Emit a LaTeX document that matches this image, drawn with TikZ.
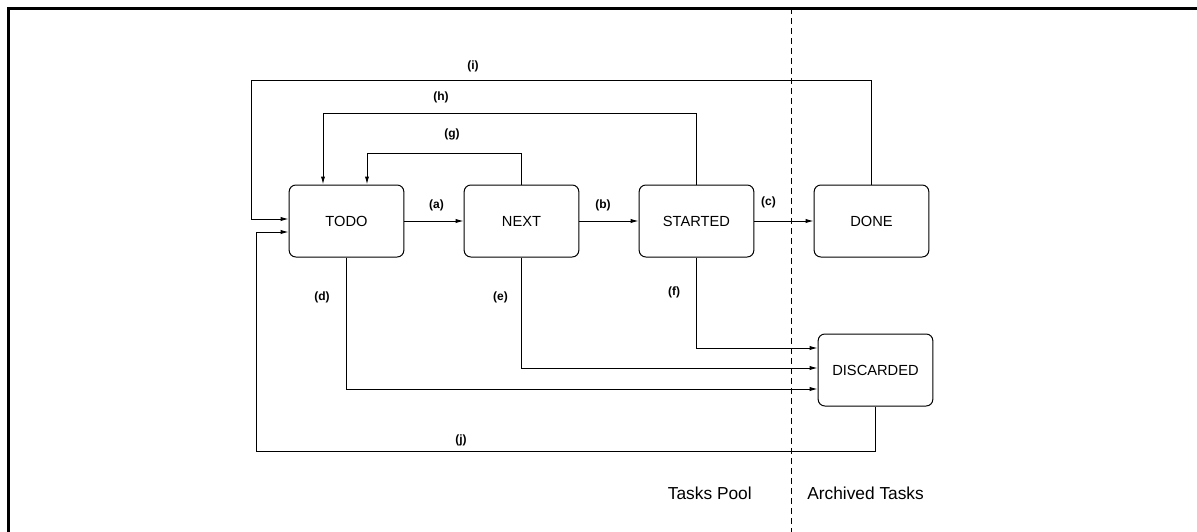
\documentclass[tikz,border=0pt]{standalone}
\usepackage{fontspec}
\setmainfont{Liberation Sans}
\usetikzlibrary{arrows.meta,positioning,calc}

\begin{document}
\begin{tikzpicture}[
    x=0.75pt, y=-0.75pt,
    node distance=44.5pt,
    state/.style={rectangle, rounded corners=5pt, draw, line width=0.75pt, minimum width=86pt, minimum height=54pt, align=center, font=\fontsize{11}{13}\selectfont},
    lbl/.style={inner sep=0pt, font=\bfseries\fontsize{9}{11}\selectfont},
    flow/.style={line width=0.75pt, -{Latex[length=6pt,width=3.2pt]}},
    zone/.style={inner sep=0pt, font=\fontsize{13}{15}\selectfont}
]
    \useasboundingbox (0,0) rectangle (1197,532);
    \draw[line width=2.25pt] (8,532) -- (8,8) -- (1197,8);
    \draw[line width=0.75pt, dash pattern=on 4.5pt off 3pt] (791,8) -- (791,532);

    \node[state] (todo) at (346.5,221) {TODO};
    \node[state, right=of todo] (next) {NEXT};
    \node[state, right=of next] (started) {STARTED};
    \node[state, right=of started] (done) {DONE};
    \node[state] (discarded) at (875.5,370) {DISCARDED};

    \coordinate (ileft) at (251,80);
    \coordinate (jleft) at (256,451);

    \draw[flow] (todo.east) -- (next.west);
    \draw[flow] (next.east) -- (started.west);
    \draw[flow] (started.east) -- (done.west);
    \draw[flow] (todo.south) |- ($(discarded.west)+(0,19)$);
    \draw[flow] (next.south) |- ($(discarded.west)+(0,-2)$);
    \draw[flow] (started.south) |- ($(discarded.west)+(0,-22)$);
    \draw[flow] (next.north) -- ++(0,-31) -| ($(todo.north)+(20.5,0)$);
    \draw[flow] (started.north) -- ++(0,-71) -| ($(todo.north)+(-23.5,0)$);
    \draw[flow] (done.north) |- (ileft) |- ($(todo.west)+(0,-2)$);
    \draw[flow] (discarded.south) |- (jleft) |- ($(todo.west)+(0,11)$);

    \node[lbl] (la) at (436.5,205) {(a)};
    \node[lbl] (lb) at (603,205) {(b)};
    \node[lbl] (lc) at (768.5,202) {(c)};
    \node[lbl] (ld) at (322,297.5) {(d)};
    \node[lbl] (le) at (500.5,297.5) {(e)};
    \node[lbl] (lf) at (674,292.5) {(f)};
    \node[lbl] (lg) at (452,134) {(g)};
    \node[lbl] (lh) at (441,97) {(h)};
    \node[lbl] (li) at (473,66) {(i)};
    \node[lbl] (lj) at (461,440) {(j)};

    \node[zone, anchor=east] (pool) at (752,493) {Tasks Pool};
    \node[zone, anchor=west] (archive) at (807,493) {Archived Tasks};
\end{tikzpicture}
\end{document}
